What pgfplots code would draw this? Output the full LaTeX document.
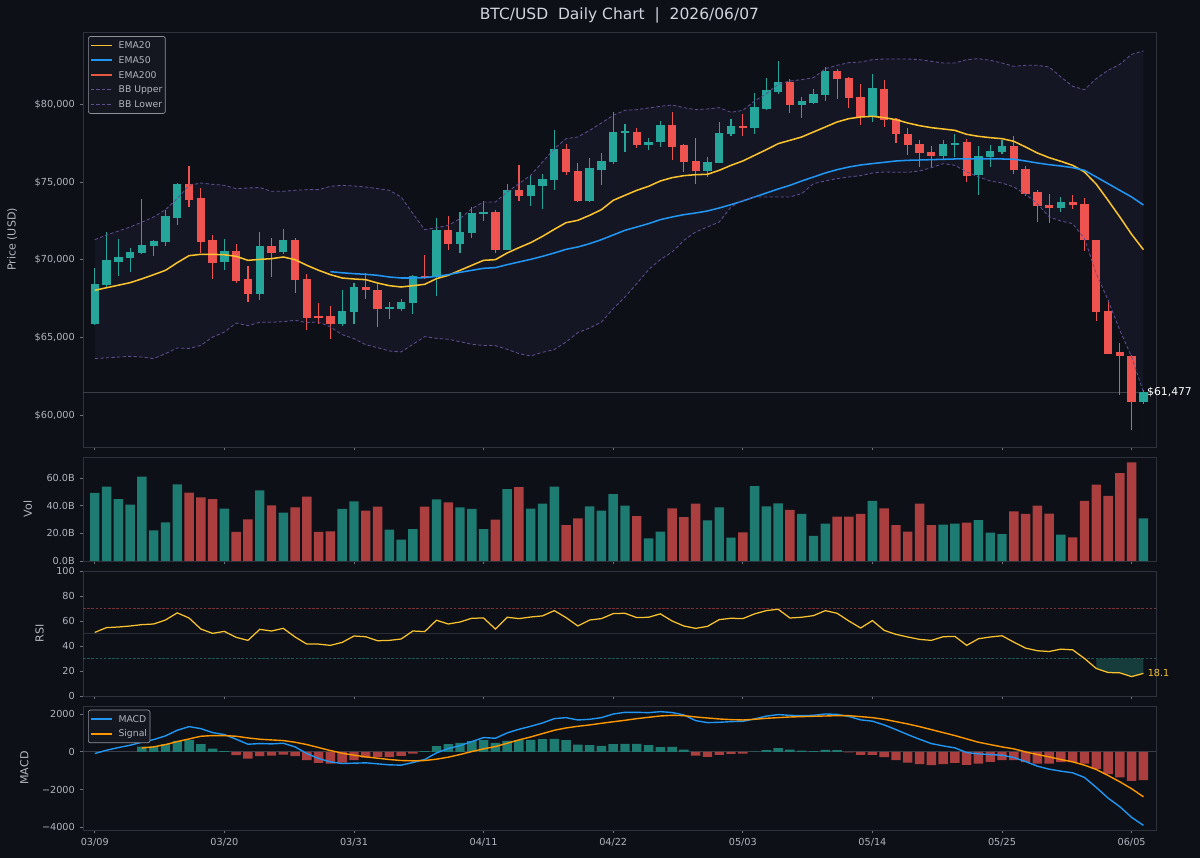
\documentclass[border=0pt]{standalone}
\usepackage{fontspec}
\setmainfont{DejaVu Sans}
\usepackage{pgfplots}
\pgfplotsset{compat=1.18}
\usepackage{pgfplotstable}

\definecolor{figbg}{HTML}{0D1017}
\definecolor{axbg}{HTML}{0D1017}
\definecolor{framec}{HTML}{2E323C}
\definecolor{tickc}{HTML}{B2B5BE}
\definecolor{tickm}{HTML}{6F727C}
\definecolor{upc}{HTML}{26A69A}
\definecolor{dnc}{HTML}{EF5350}
\definecolor{volup}{HTML}{1E7B72}
\definecolor{voldn}{HTML}{AB3F3F}
\definecolor{emayel}{HTML}{F9C22E}
\definecolor{ema50c}{HTML}{2196F3}
\definecolor{ema200c}{HTML}{E9573F}
\definecolor{bbline}{HTML}{5E4E92}
\definecolor{bbfill}{HTML}{151624}
\definecolor{macdc}{HTML}{2196F3}
\definecolor{sigc}{HTML}{FF9800}
\definecolor{rsifill}{HTML}{163D3C}
\definecolor{obc}{HTML}{7A3236}
\definecolor{osc}{HTML}{1B5A57}
\definecolor{midl}{HTML}{2A2E39}
\definecolor{lastl}{HTML}{3A3E48}
\definecolor{titlec}{HTML}{D1D4DC}
\definecolor{legbg}{HTML}{141720}
\definecolor{legedge}{HTML}{8E9199}

% candles: index, open, high, low, close, volume (B)
\pgfplotstableread{
i o h l c v
0 65899 69499 65791 68427 49.2
1 68363 71770 68256 69970 53.7
2 69885 71342 68942 70206 44.8
3 70142 70785 69199 70485 40.7
4 70442 73935 70378 70978 61.0
5 70913 71299 70271 71213 22.2
6 71127 73185 70870 72799 28.0
7 72713 74950 72242 74878 55.4
11 69863 71342 69370 70549 37.8
14 67806 71813 67399 70913 51.1
16 70485 71985 70400 71299 34.9
21 65899 68084 65727 66713 37.6
22 66649 68513 65899 68256 43.1
25 66884 67291 66220 66970 22.7
26 66863 67506 66713 67291 15.4
27 67227 69006 66542 68964 23.1
29 68899 72714 67699 71942 44.6
31 71042 73099 70442 71770 38.8
32 71728 73399 71385 73013 37.6
33 72928 73785 72499 73056 23.1
35 70656 74856 70621 74514 52.0
37 74085 75414 73463 74792 37.8
38 74728 75500 73270 75178 41.4
39 75114 78328 74514 77149 53.7
42 73785 76571 73720 75885 39.5
43 75799 76871 74792 76357 36.4
44 76271 79485 76142 78199 48.4
45 78156 78714 76935 78285 40.0
47 77385 77857 77085 77600 16.4
48 77557 78928 77257 78650 21.2
52 75692 76614 75328 76314 29.4
53 76249 78864 76228 78156 38.8
54 78071 79078 77942 78628 16.9
56 78457 80728 78114 79828 54.2
57 79700 81714 79650 80900 39.5
58 80814 82764 80685 81435 41.7
60 79936 80471 79142 80193 34.0
61 80086 81007 80043 80643 18.1
62 80579 82400 80214 82121 27.0
66 79185 81971 78864 81071 43.4
72 76700 77728 76507 77471 26.3
73 77407 78071 76614 77514 27.0
75 75435 77299 74171 76700 29.6
76 76614 77364 75971 76979 20.5
77 76914 77685 76785 77300 19.5
82 73335 74043 73078 73742 19.0
89 60862 61613 60756 61477 30.8
}\upC

\pgfplotstableread{
i o h l c v
8 74856 76013 73399 73828 49.4
9 73956 74642 70442 71170 46.0
10 71256 71599 68770 69820 44.8
12 70549 71042 68534 68641 21.0
13 68770 69585 67291 67806 30.1
15 70913 71385 68899 70463 40.2
17 71299 71385 67842 68727 38.8
18 68791 69113 65470 66250 46.5
19 66370 67227 65856 66284 21.0
20 66370 67056 64913 65899 21.4
23 68256 69156 67506 68042 36.4
24 68084 68470 65684 66842 39.3
28 68985 70292 68791 68856 39.3
30 71942 72842 70621 71042 42.4
34 73078 73185 70463 70621 29.9
36 74471 76078 73785 74085 53.5
40 77128 77428 75435 75650 26.0
41 75714 76228 73720 73785 30.8
46 78221 78500 77214 77364 32.5
49 78650 79507 76400 77257 38.1
50 77364 77428 75650 76271 31.8
51 76357 77857 74900 75692 41.4
55 78628 79400 77985 78478 20.7
59 81435 81650 79442 79936 36.9
63 82121 82293 80364 81650 32.0
64 81714 81757 79743 80386 32.0
65 80471 81285 78650 79185 34.0
67 81007 81585 78542 79014 38.1
68 79078 79142 77514 78071 26.0
69 78114 78500 76721 77364 21.2
70 77428 77728 75971 76871 41.4
71 76935 77342 75971 76657 26.0
74 77557 77792 75021 75414 27.7
78 77300 77985 75500 75757 35.9
79 75842 76013 74085 74257 34.0
80 74342 74471 72435 73485 40.0
81 73528 74214 72371 73357 34.2
83 73742 74171 73270 73528 17.1
84 73571 73956 70571 71256 43.4
85 71299 71299 66070 66649 55.2
86 66691 67441 63970 63970 47.0
87 64056 64678 61291 63800 63.6
88 63820 63863 59041 60862 71.3
}\dnC

% indicators: EMA20, BB upper, BB lower, RSI, MACD, signal, histogram
\pgfplotstableread{
i e20 bu bl rsi macd sig hist
0 68042 71299 63650 50.9 -88 nan nan
1 68210 71600 63700 54.7 88 nan nan
2 68370 71850 63750 55.2 229 nan nan
3 68535 72114 63800 56.0 353 nan nan
4 68780 72430 63750 57.1 512 212 282
5 69049 72757 63650 57.6 653 265 282
6 69327 73228 63971 60.8 850 388 406
7 69820 73935 64335 66.5 1147 547 582
8 70270 74792 64300 62.4 1341 688 635
9 70356 74942 64500 53.6 1235 830 406
10 70356 74856 65035 50.1 1024 865 177
11 70330 74792 65357 51.7 918 865 35
12 70228 74578 65935 46.9 671 830 -176
13 69970 74620 65770 44.5 406 741 -353
14 70030 74650 65985 53.3 441 671 -229
15 70078 74407 65985 52.0 424 635 -194
16 70185 74407 66028 54.1 459 600 -141
17 70013 74471 66114 47.2 265 512 -229
18 69650 74514 65964 41.5 -88 388 -441
19 69328 74514 66006 41.5 -353 229 -582
20 69050 74728 65684 40.5 -530 71 -618
21 68835 74792 65192 42.9 -618 -71 -565
22 68770 74750 64935 48.0 -600 -176 -441
23 68728 74685 64542 47.4 -582 -265 -300
24 68513 74578 64356 44.2 -635 -335 -265
25 68341 74471 64142 44.5 -688 -406 -282
26 68256 74043 64078 45.6 -706 -459 -212
27 68341 72971 64571 52.0 -565 -476 -88
28 68427 71942 65064 51.5 -406 -459 35
29 68791 72071 64957 60.6 -53 -388 300
30 69006 72221 64892 57.6 177 -282 406
31 69328 72650 64742 59.2 335 -141 476
32 69650 73292 64571 62.2 547 18 565
33 69970 73721 64500 62.4 759 159 618
34 70013 73721 64485 53.6 724 282 476
35 70442 74364 64250 63.0 1006 459 582
36 70785 74900 63971 61.9 1200 635 618
37 71106 75435 63821 63.2 1359 794 635
38 71513 76292 64056 64.1 1536 971 671
39 71964 77149 64228 68.3 1765 1147 688
40 72392 77792 64720 62.7 1818 1271 618
41 72542 77900 65321 56.0 1694 1359 388
42 72864 78328 65621 60.8 1730 1430 353
43 73228 78800 66000 61.9 1818 1518 318
44 73828 79292 66863 65.9 2010 1600 406
45 74150 79614 67613 66.2 2100 1677 424
46 74471 79657 68470 62.7 2100 1765 424
47 74728 79764 69370 63.0 2083 1836 353
48 75071 79871 70013 65.7 2136 1906 247
49 75285 79957 70506 60.0 2090 1941 265
50 75414 79785 71256 56.0 1960 1924 124
51 75478 79657 71792 54.1 1659 1853 -194
52 75500 79700 72114 55.7 1553 1800 -265
53 75757 79785 72435 61.1 1571 1747 -159
54 76078 79485 73399 62.2 1606 1712 -106
55 76357 79614 73828 61.9 1624 1694 -88
56 76721 80214 74043 65.7 1750 1730 10
57 77085 80685 74043 68.3 1900 1783 88
58 77471 81285 74043 69.4 1980 1818 194
59 77685 81500 74043 62.4 1940 1853 124
60 77900 81585 74257 63.0 1920 1871 71
61 78221 81714 74900 64.3 1940 1889 35
62 78542 82293 75071 68.3 2012 1906 106
63 78864 82507 75221 66.2 1990 1924 88
64 79078 82678 75328 60.0 1880 1924 -20
65 79185 82721 75414 54.4 1700 1871 -159
66 79228 82871 75585 60.3 1630 1818 -159
67 79142 82914 75650 52.5 1430 1730 -282
68 79014 82914 75630 49.3 1183 1606 -441
69 78800 82914 75630 47.2 918 1483 -565
70 78628 82871 75714 45.3 671 1341 -653
71 78500 82764 75928 44.5 441 1183 -706
72 78414 82657 76185 47.4 318 1024 -653
73 78328 82657 76078 47.7 212 865 -582
74 78071 82871 75650 40.5 -35 688 -688
75 77942 82935 75328 45.8 -106 512 -618
76 77857 82828 75071 47.2 -141 388 -530
77 77792 82657 74942 48.2 -176 265 -441
78 77621 82443 74685 43.1 -300 159 -441
79 77257 82507 74214 38.3 -512 0 -547
80 76871 82507 73614 36.2 -759 -141 -618
81 76571 82400 72757 35.6 -918 -265 -618
82 76335 81757 72500 37.5 -1024 -406 -547
83 76078 81157 72328 36.9 -1112 -530 -547
84 75650 80943 71364 30.0 -1359 -706 -618
85 74864 81650 69113 22.0 -1889 -935 -900
86 73828 82185 67399 18.8 -2453 -1253 -1183
87 72757 82571 65470 18.5 -2912 -1589 -1359
88 71642 83214 63756 15.5 -3477 -1959 -1536
89 70656 83428 61506 18.1 -3901 -2383 -1500
}\ind

\pgfplotstableread{
i e50
20 69242
21 69170
22 69113
23 69070
24 69006
25 68899
26 68835
27 68835
28 68856
29 68942
30 69050
31 69199
32 69328
33 69457
34 69500
35 69692
36 69863
37 70035
38 70228
39 70442
40 70678
41 70828
42 71042
43 71300
44 71600
45 71900
46 72114
47 72328
48 72585
49 72757
50 72907
51 73014
52 73143
53 73335
54 73550
55 73785
56 74043
57 74300
58 74557
59 74792
60 75071
61 75328
62 75585
63 75799
64 75971
65 76100
66 76190
67 76271
68 76357
69 76400
70 76420
71 76443
72 76465
73 76486
74 76486
75 76486
76 76486
77 76486
78 76470
79 76357
80 76228
81 76121
82 76035
83 75928
84 75757
85 75328
86 74900
87 74471
88 74043
89 73528
}\emaF

\pgfplotsset{
  panel/.style={
    scale only axis, width=772.56bp, xmin=-1, xmax=90.07,
    scaled y ticks=false, scaled x ticks=false,
    axis background/.style={fill=axbg},
    axis line style={draw=framec, line width=0.7bp},
    tick style={draw=tickm, line width=0.6bp},
    tick align=outside, major tick length=2.4bp,
    xtick={0,11,22,33,44,55,66,77,88}, xticklabels={},
    xtick pos=left, ytick pos=left,
    ticklabel style={font=\fontsize{7}{8}\selectfont, text=tickc},
    ylabel style={font=\fontsize{8}{9}\selectfont, text=tickc},
    clip mode=individual,
    legend cell align=left,
    legend image code/.code={\draw[##1] (0bp,0bp) -- (15bp,0bp);},
    legend style={fill=legbg, draw=legedge, line width=0.5bp, rounded corners=1.5pt,
      text=tickc, font=\fontsize{6.7}{7}\selectfont,
      inner xsep=1.2bp, inner ysep=1.2bp,
      nodes={inner sep=0.9bp, text height=6.6bp, text depth=2.2bp},
      /tikz/every odd column/.style={column sep=3.6bp}},
  },
  wick/.style={draw=none, forget plot,
    error bars/y dir=both, error bars/y explicit, error bars/error mark=none,
    error bars/error bar style={draw=#1, line width=0.8bp, solid}},
  body/.style={draw=none, forget plot,
    error bars/y dir=both, error bars/y explicit, error bars/error mark=none,
    error bars/error bar style={draw=#1, line width=6bp, solid}},
}

\begin{document}
\begin{tikzpicture}
\fill[figbg] (0,0) rectangle (864bp,617.76bp);
\node[font=\fontsize{11.2}{13}\selectfont, text=titlec] at (446bp,607bp) {BTC/USD\ \ Daily Chart\ \ |\ \ 2026/06/07};

% ---------------- Price panel
\begin{axis}[panel, at={(59.76bp,295.92bp)}, anchor=south west, height=298.8bp,
  ymin=57970, ymax=84650,
  ytick={60000,65000,70000,75000,80000},
  yticklabels={{\$60,000},{\$65,000},{\$70,000},{\$75,000},{\$80,000}},
  ylabel={Price (USD)}, ylabel style={at={(ticklabel cs:0.5,5.8bp)}},
  legend style={at={(0.0047,0.99)}, anchor=north west}]
% Bollinger band area: fill under upper band, then blank out under lower band
\addplot[fill=bbfill, draw=none, forget plot] table[x=i,y=bu]{\ind} \closedcycle;
\addplot[fill=axbg, draw=none, forget plot] table[x=i,y=bl]{\ind} \closedcycle;
\addplot[lastl, line width=0.6bp, forget plot] coordinates {(-1,61477) (90.07,61477)};
% wicks
\addplot[wick=upc] table[x=i, y expr={(\thisrow{h}+\thisrow{l})/2}, y error expr={(\thisrow{h}-\thisrow{l})/2}]{\upC};
\addplot[wick=dnc] table[x=i, y expr={(\thisrow{h}+\thisrow{l})/2}, y error expr={(\thisrow{h}-\thisrow{l})/2}]{\dnC};
% bodies
\addplot[body=upc] table[x=i, y expr={(\thisrow{o}+\thisrow{c})/2}, y error expr={abs(\thisrow{c}-\thisrow{o})/2}]{\upC};
\addplot[body=dnc] table[x=i, y expr={(\thisrow{o}+\thisrow{c})/2}, y error expr={abs(\thisrow{c}-\thisrow{o})/2}]{\dnC};
% indicator lines (in legend order)
\addplot[draw=emayel, line width=1.1bp] table[x=i,y=e20]{\ind};
\addlegendentry{EMA20}
\addplot[draw=ema50c, line width=1.1bp] table[x=i,y=e50]{\emaF};
\addlegendentry{EMA50}
\addlegendimage{draw=ema200c, line width=1.1bp}
\addlegendentry{EMA200}
\addplot[draw=bbline, line width=0.6bp, dash pattern=on 2.4bp off 1.6bp] table[x=i,y=bu]{\ind};
\addlegendentry{BB Upper}
\addplot[draw=bbline, line width=0.6bp, dash pattern=on 2.4bp off 1.6bp] table[x=i,y=bl]{\ind};
\addlegendentry{BB Lower}
\node[anchor=west, inner sep=0pt, text=white, font=\fontsize{7.8}{9}\selectfont] at (axis cs:89.3,61477) {\$61,477};
\end{axis}

% ---------------- Volume panel
\begin{axis}[panel, at={(59.76bp,213.84bp)}, anchor=south west, height=74.88bp,
  ymin=0, ymax=75.2, ytick={0,20,40,60}, yticklabels={0.0B,20.0B,40.0B,60.0B},
  ylabel={Vol}, ylabel style={at={(ticklabel cs:0.5,3.6bp)}}]
\addplot[ybar, bar width=0.8, bar shift=0pt, fill=volup, draw=none] table[x=i,y=v]{\upC};
\addplot[ybar, bar width=0.8, bar shift=0pt, fill=voldn, draw=none] table[x=i,y=v]{\dnC};
\end{axis}

% ---------------- RSI panel
\begin{axis}[panel, at={(59.76bp,116.64bp)}, anchor=south west, height=90bp,
  ymin=0, ymax=100, ytick={0,20,40,60,80,100}, yticklabels={0,20,40,60,80,100},
  ylabel={RSI}, ylabel style={at={(ticklabel cs:0.5,2.2bp)}}]
\addplot[midl, line width=0.6bp] coordinates {(-1,50) (90.07,50)};
\addplot[obc, line width=0.6bp, dash pattern=on 1.8bp off 1.2bp] coordinates {(-1,70) (90.07,70)};
% oversold area (RSI below 30, days 85-89)
\addplot[fill=rsifill, draw=none] coordinates {(85,30) (85,22.0) (86,18.8) (87,18.5) (88,15.5) (89,18.1) (89,30)} -- cycle;
\addplot[osc, line width=0.6bp, dash pattern=on 1.8bp off 1.2bp] coordinates {(-1,30) (90.07,30)};
\addplot[draw=emayel, line width=0.9bp] table[x=i,y=rsi]{\ind};
\node[anchor=west, inner sep=0pt, text=emayel, font=\fontsize{7}{8}\selectfont] at (axis cs:89.35,18.1) {18.1};
\end{axis}

% ---------------- MACD panel
\begin{axis}[panel, at={(59.76bp,20.16bp)}, anchor=south west, height=89.28bp,
  ymin=-4148, ymax=2436, ytick={-4000,-2000,0,2000}, yticklabels={−4000,−2000,0,2000},
  xticklabels={03/09,03/20,03/31,04/11,04/22,05/03,05/14,05/25,06/05},
  ylabel={MACD}, ylabel style={at={(ticklabel cs:0.5,2.9bp)}},
  legend style={at={(0.0047,0.97)}, anchor=north west}]
\addplot[lastl, line width=0.6bp, forget plot] coordinates {(-1,0) (90.07,0)};
\addplot[ybar, bar width=0.8, bar shift=0pt, fill=volup, draw=none, forget plot,
  y filter/.expression={y>=0 ? y : nan}] table[x=i,y=hist]{\ind};
\addplot[ybar, bar width=0.8, bar shift=0pt, fill=voldn, draw=none, forget plot,
  y filter/.expression={y<0 ? y : nan}] table[x=i,y=hist]{\ind};
\addplot[draw=macdc, line width=1.0bp] table[x=i,y=macd]{\ind};
\addlegendentry{MACD}
\addplot[draw=sigc, line width=1.0bp] table[x=i,y=sig]{\ind};
\addlegendentry{Signal}
\end{axis}
\pgfresetboundingbox
\path[use as bounding box] (0,0) rectangle (864bp,617.76bp);
\end{tikzpicture}
\end{document}
